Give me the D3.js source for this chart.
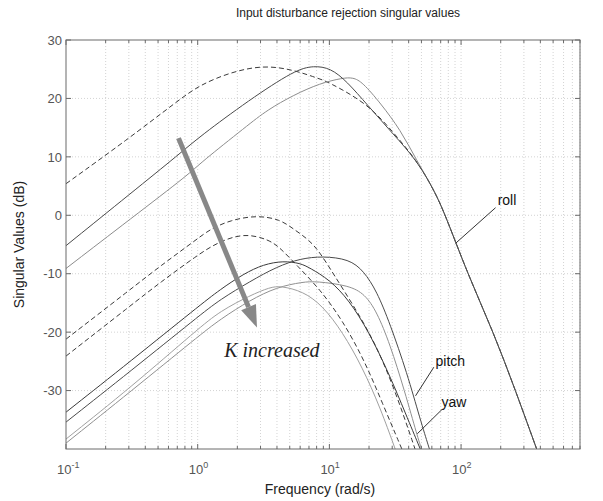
<!DOCTYPE html>
<html><head><meta charset="utf-8">
<script src="https://cdn.jsdelivr.net/npm/d3@7"></script>
<style>body{margin:0;background:#fff}text{font-family:"Liberation Sans",Arial,sans-serif}</style>
</head><body><svg id="c" width="603" height="501"></svg>
<script>
// ---------- data ----------
const titleText = "Input disturbance rejection singular values";
const xLabelText = "Frequency (rad/s)";
const yLabelText = "Singular Values (dB)";
const xDomain = [0.1, 800];
const yDomain = [-40, 30];
const yTicks = [-30, -20, -10, 0, 10, 20, 30];
const xMajorExps = [-1, 0, 1, 2];

// roll channel shared high-frequency tail [freq rad/s, dB]
const rollTail = [[45.7,9.5],[62.1,4.4],[76.2,0],[112,-10],[176,-20],[259,-30],[375,-40]];
// roll, three gains
const rollK1 = [[0.1,5.4],[0.29,12.9],[0.736,19.9],[1.04,22.3],[1.78,24.5],[3.16,25.7],[5.36,24.9],[8.51,23.3],[9.6,22.9],[19.4,19.2],[30.8,14.1]];
const rollK2 = [[0.1,-5.2],[0.316,3.9],[0.736,10.6],[1.04,13.5],[2.45,19.7],[5.5,24.9],[7.6,25.6],[10.2,25.2],[13.6,22.9],[19.4,18.9],[30.8,13.8]];
const rollK3 = [[0.1,-9.1],[0.316,-0.45],[0.877,7.2],[1.04,8.9],[2.37,15.3],[3.36,18],[5.37,20.6],[8.51,22.6],[12.6,23.5],[15.1,23.6],[17.8,22.8],[24.4,19.2],[34.7,14.6]];
// pitch, three gains
const pitchK1 = [[0.1,-21.2],[0.316,-12.5],[0.519,-8.7],[1,-4],[1.24,-2.4],[1.78,-0.8],[2.82,0],[4.24,-0.7],[5.37,-2.4],[6.97,-4.15],[8.51,-6.4],[10.7,-10],[15.8,-16],[22.4,-22],[31.6,-30],[44.7,-40]];
const pitchK2 = [[0.1,-35.4],[0.316,-26.5],[1,-17.4],[1.48,-14.4],[2.51,-11.3],[3.98,-8.8],[6.03,-7.4],[8.91,-7.0],[14.1,-7.5],[18.2,-9.5],[22.9,-13],[28.8,-18.5],[38.9,-27],[49,-35],[57.5,-40]];
const pitchK3 = [[0.1,-39],[0.316,-30],[1,-20.8],[1.48,-17.8],[2.51,-14.5],[3.98,-12.3],[6.31,-11.4],[7.94,-11.3],[14.1,-12],[18.6,-13.5],[22.9,-16.5],[28.8,-22],[37.2,-30],[46.8,-38],[50.1,-40]];
// yaw, three gains
const yawK1 = [[0.1,-24.1],[0.316,-15.3],[0.519,-11.5],[1,-6.8],[1.4,-4.7],[2.24,-3.0],[3.47,-4.15],[4.24,-5.6],[5.62,-8.5],[8.51,-12.7],[12.6,-18],[18.6,-25],[25.1,-32],[35.5,-40]];
const yawK2 = [[0.1,-33.7],[0.316,-24.8],[1,-15.7],[1.48,-12.7],[2.24,-10.0],[3.16,-8.4],[4.47,-7.8],[6.03,-8.2],[7.08,-9],[10,-11],[14.1,-14.5],[20,-20],[28.2,-27],[38,-34],[49,-40]];
const yawK3 = [[0.1,-38.3],[0.316,-29.3],[1,-19.5],[1.48,-16.4],[2.51,-13.7],[3.55,-12.3],[4.27,-12.1],[6.31,-13],[8.91,-15.5],[12.6,-20],[17.8,-26],[24.4,-33],[31.6,-40]];

// annotations (data coordinates)
const arrowFrom = [0.715, 13.2], arrowTo = [2.82, -19.2];
const arrowText = "K increased", arrowTextAt = [1.59, -24.3];
const labels = [
  {text:"roll",  at:[189.6, 1.8],  from:[182.8, 1.3],  to:[90.8, -4.8]},
  {text:"pitch", at:[64, -25.8],   from:[62.1, -26.0], to:[45.1, -30.9]},
  {text:"yaw",   at:[71.1, -32.8], from:[71.9, -33.2], to:[46.5, -37.4]}
];

// ---------- drawing ----------
const svg = d3.select("#c");
const L=66, R=580, T=40, B=449;
const x = d3.scaleLog().domain(xDomain).range([L, R]);
const y = d3.scaleLinear().domain(yDomain).range([B, T]);

svg.append("defs").append("clipPath").attr("id","clip")
  .append("rect").attr("x",L).attr("y",T).attr("width",R-L).attr("height",B-T);

const xMinor = [];
xMajorExps.forEach(e => { for (let k=1;k<=9;k++){ const v=k*Math.pow(10,e); if (v<=xDomain[1]+1e-9) xMinor.push(v);} });

// grid
const grid = svg.append("g").attr("stroke","#c8c8c8").attr("stroke-width",0.8).attr("stroke-dasharray","1,2");
xMinor.filter(v=>v>xDomain[0]).forEach(v=>{
  grid.append("line").attr("x1",x(v)).attr("x2",x(v)).attr("y1",T).attr("y2",B);
});
yTicks.filter(v=>v<yDomain[1]).forEach(v=>{
  grid.append("line").attr("x1",L).attr("x2",R).attr("y1",y(v)).attr("y2",y(v));
});

// curves
const line = d3.line().x(d=>x(d[0])).y(d=>y(d[1])).curve(d3.curveBasis);
const series = [
  {d: rollK1.concat(rollTail), c:"#3a3a3a", w:1, dash:"5,3"},
  {d: pitchK1, c:"#3a3a3a", w:1, dash:"5,3"},
  {d: yawK1, c:"#3a3a3a", w:1, dash:"5,3"},
  {d: rollK3.concat(rollTail), c:"#8c8c8c", w:1, dash:null},
  {d: pitchK3, c:"#909090", w:1, dash:null},
  {d: yawK3, c:"#a0a0a0", w:1, dash:null},
  {d: rollK2.concat(rollTail), c:"#4a4a4a", w:1, dash:null},
  {d: pitchK2, c:"#4a4a4a", w:1, dash:null},
  {d: yawK2, c:"#3a3a3a", w:1, dash:null}
];
const cg = svg.append("g").attr("clip-path","url(#clip)");
series.forEach(s=>{
  cg.append("path").attr("d", line(s.d)).attr("fill","none")
    .attr("stroke", s.c).attr("stroke-width", s.w)
    .attr("stroke-dasharray", s.dash);
});

// axes box
svg.append("rect").attr("x",L).attr("y",T).attr("width",R-L).attr("height",B-T)
  .attr("fill","none").attr("stroke","#6a6a6a").attr("stroke-width",1);

// ticks
const tk = svg.append("g").attr("stroke","#6a6a6a").attr("stroke-width",1);
xMinor.forEach(v=>{
  const major = xMajorExps.some(e=>Math.abs(v-Math.pow(10,e))<1e-9);
  const len = major?5:3;
  tk.append("line").attr("x1",x(v)).attr("x2",x(v)).attr("y1",B).attr("y2",B-len);
  tk.append("line").attr("x1",x(v)).attr("x2",x(v)).attr("y1",T).attr("y2",T+len);
});
yTicks.forEach(v=>{
  tk.append("line").attr("x1",L).attr("x2",L+5).attr("y1",y(v)).attr("y2",y(v));
  tk.append("line").attr("x1",R).attr("x2",R-5).attr("y1",y(v)).attr("y2",y(v));
});

// tick labels
yTicks.forEach(v=>{
  svg.append("text").attr("x",L-4).attr("y",y(v)).attr("dy","0.36em")
    .attr("text-anchor","end").attr("font-size",13).attr("fill","#555").text(v);
});
xMajorExps.forEach(e=>{
  const t = svg.append("text").attr("x",x(Math.pow(10,e))-9).attr("y",474)
    .attr("font-size",13).attr("fill","#555");
  t.append("tspan").text("10");
  t.append("tspan").attr("dy",-6).attr("font-size",9).text(e);
});

// titles
svg.append("text").attr("x",348).attr("y",17).attr("text-anchor","middle")
  .attr("font-size",12).attr("fill","#222").text(titleText);
svg.append("text").attr("x",320).attr("y",494).attr("text-anchor","middle")
  .attr("font-size",14).attr("fill","#222").text(xLabelText);
svg.append("text").attr("transform",`translate(24,${(T+B)/2}) rotate(-90)`)
  .attr("text-anchor","middle").attr("font-size",14).attr("fill","#222").text(yLabelText);

// arrow
const ax1=x(arrowFrom[0]), ay1=y(arrowFrom[1]), ax2=x(arrowTo[0]), ay2=y(arrowTo[1]);
const ang=Math.atan2(ay2-ay1, ax2-ax1), hl=22, hw=8;
const bx=ax2-hl*Math.cos(ang), by=ay2-hl*Math.sin(ang);
svg.append("line").attr("x1",ax1).attr("y1",ay1).attr("x2",bx).attr("y2",by)
  .attr("stroke","#888").attr("stroke-width",5);
svg.append("path").attr("fill","#888")
  .attr("d",`M${ax2},${ay2}L${bx+hw*Math.sin(ang)},${by-hw*Math.cos(ang)}L${bx-hw*Math.sin(ang)},${by+hw*Math.cos(ang)}Z`);
svg.append("text").attr("x",x(arrowTextAt[0])).attr("y",y(arrowTextAt[1]))
  .attr("font-style","italic").attr("font-size",20).attr("fill","#222")
  .style("font-family","'Liberation Serif','Times New Roman',serif").text(arrowText);

// channel labels
labels.forEach(l=>{
  svg.append("line").attr("x1",x(l.from[0])).attr("y1",y(l.from[1]))
    .attr("x2",x(l.to[0])).attr("y2",y(l.to[1])).attr("stroke","#333").attr("stroke-width",1);
  svg.append("text").attr("x",x(l.at[0])).attr("y",y(l.at[1]))
    .attr("font-size",14).attr("fill","#111").text(l.text);
});
</script></body></html>
